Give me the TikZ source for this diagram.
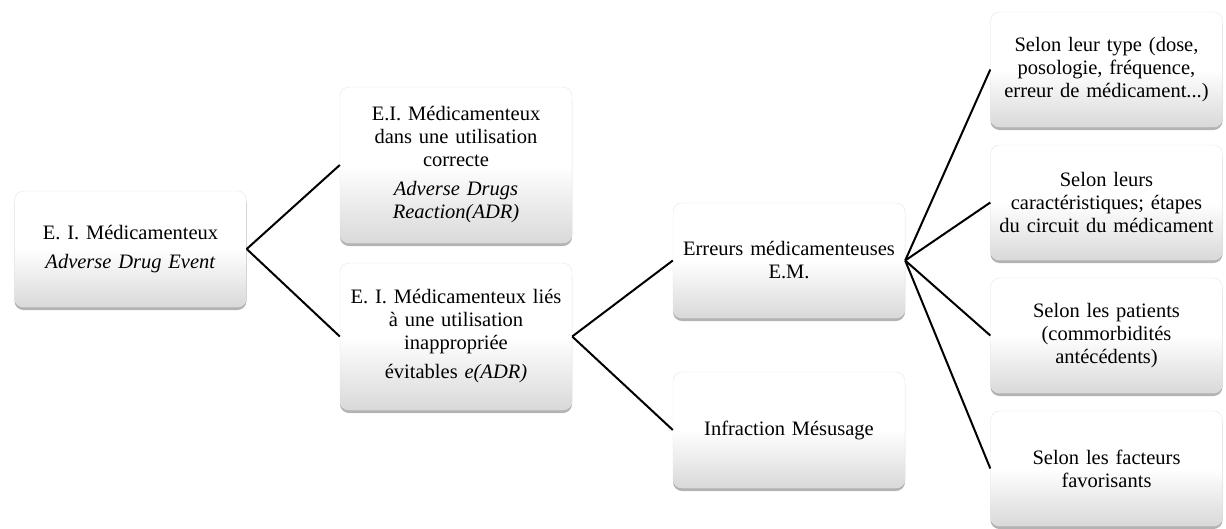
\documentclass[tikz,border=0pt]{standalone}
\usepackage{fontspec}
\setmainfont{Liberation Serif}
\usetikzlibrary{shadows}
\begin{document}
\begin{tikzpicture}[x=1pt,y=-1pt]
		\tikzstyle{trait}=[line width=2pt]
		\tikzstyle{boite}=[rounded corners=9pt,top color=white,bottom color=black!15,middle color=white,draw=black!10,line width=0.4pt,drop shadow={shadow xshift=0pt,shadow yshift=-3pt,opacity=0.6},text width=225pt,inner xsep=3.5pt,inner ysep=0pt,align=center,font=\fontsize{20.5}{23}\selectfont]
		\def\ColonneA{130.5}
		\def\ColonneB{456}
		\def\ColonneC{789}
		\def\ColonneD{1106.5}
		\def\EcartItalique{6pt}
		\useasboundingbox (0,0) rectangle (1226,528);
		\node[boite,minimum height=116pt] (R) at ({\ColonneA},249) {E. I. Médicamenteux\\[\EcartItalique]\textit{Adverse Drug Event}};
		\node[boite,minimum height=156pt] (Ra) at ({\ColonneB},165) {E.I. Médicamenteux\\dans une utilisation\\correcte\\[\EcartItalique]\textit{Adverse Drugs}\\\textit{Reaction(ADR)}};
		\node[boite,minimum height=147pt] (Rb) at ({\ColonneB},336.5) {E. I. Médicamenteux liés\\à une utilisation\\inappropriée\\[\EcartItalique]évitables \textit{e(ADR)}};
		\node[boite,minimum height=115pt] (Rba) at ({\ColonneC},260.5) {Erreurs médicamenteuses\\E.M.};
		\node[boite,minimum height=116pt] (Rbb) at ({\ColonneC},430) {Infraction Mésusage};
		\node[boite,minimum height=115pt] (Rbaa) at ({\ColonneD},69.5) {Selon leur type (dose,\\posologie, fréquence,\\erreur de médicament...)};
		\node[boite,minimum height=115pt] (Rbab) at ({\ColonneD},202.5) {Selon leurs\\caractéristiques; étapes\\du circuit du médicament};
		\node[boite,minimum height=115pt] (Rbac) at ({\ColonneD},335.5) {Selon les patients\\(commorbidités\\antécédents)};
		\node[boite,minimum height=115pt] (Rbad) at ({\ColonneD},468.5) {Selon les facteurs\\favorisants};
		\draw[trait] (R.east)--(Ra.west);
		\draw[trait] (R.east)--(Rb.west);
		\draw[trait] (Rb.east)--(Rba.west);
		\draw[trait] (Rb.east)--(Rbb.west);
		\draw[trait] (Rba.east)--(Rbaa.west);
		\draw[trait] (Rba.east)--(Rbab.west);
		\draw[trait] (Rba.east)--(Rbac.west);
		\draw[trait] (Rba.east)--(Rbad.west);
	\end{tikzpicture}
\end{document}
